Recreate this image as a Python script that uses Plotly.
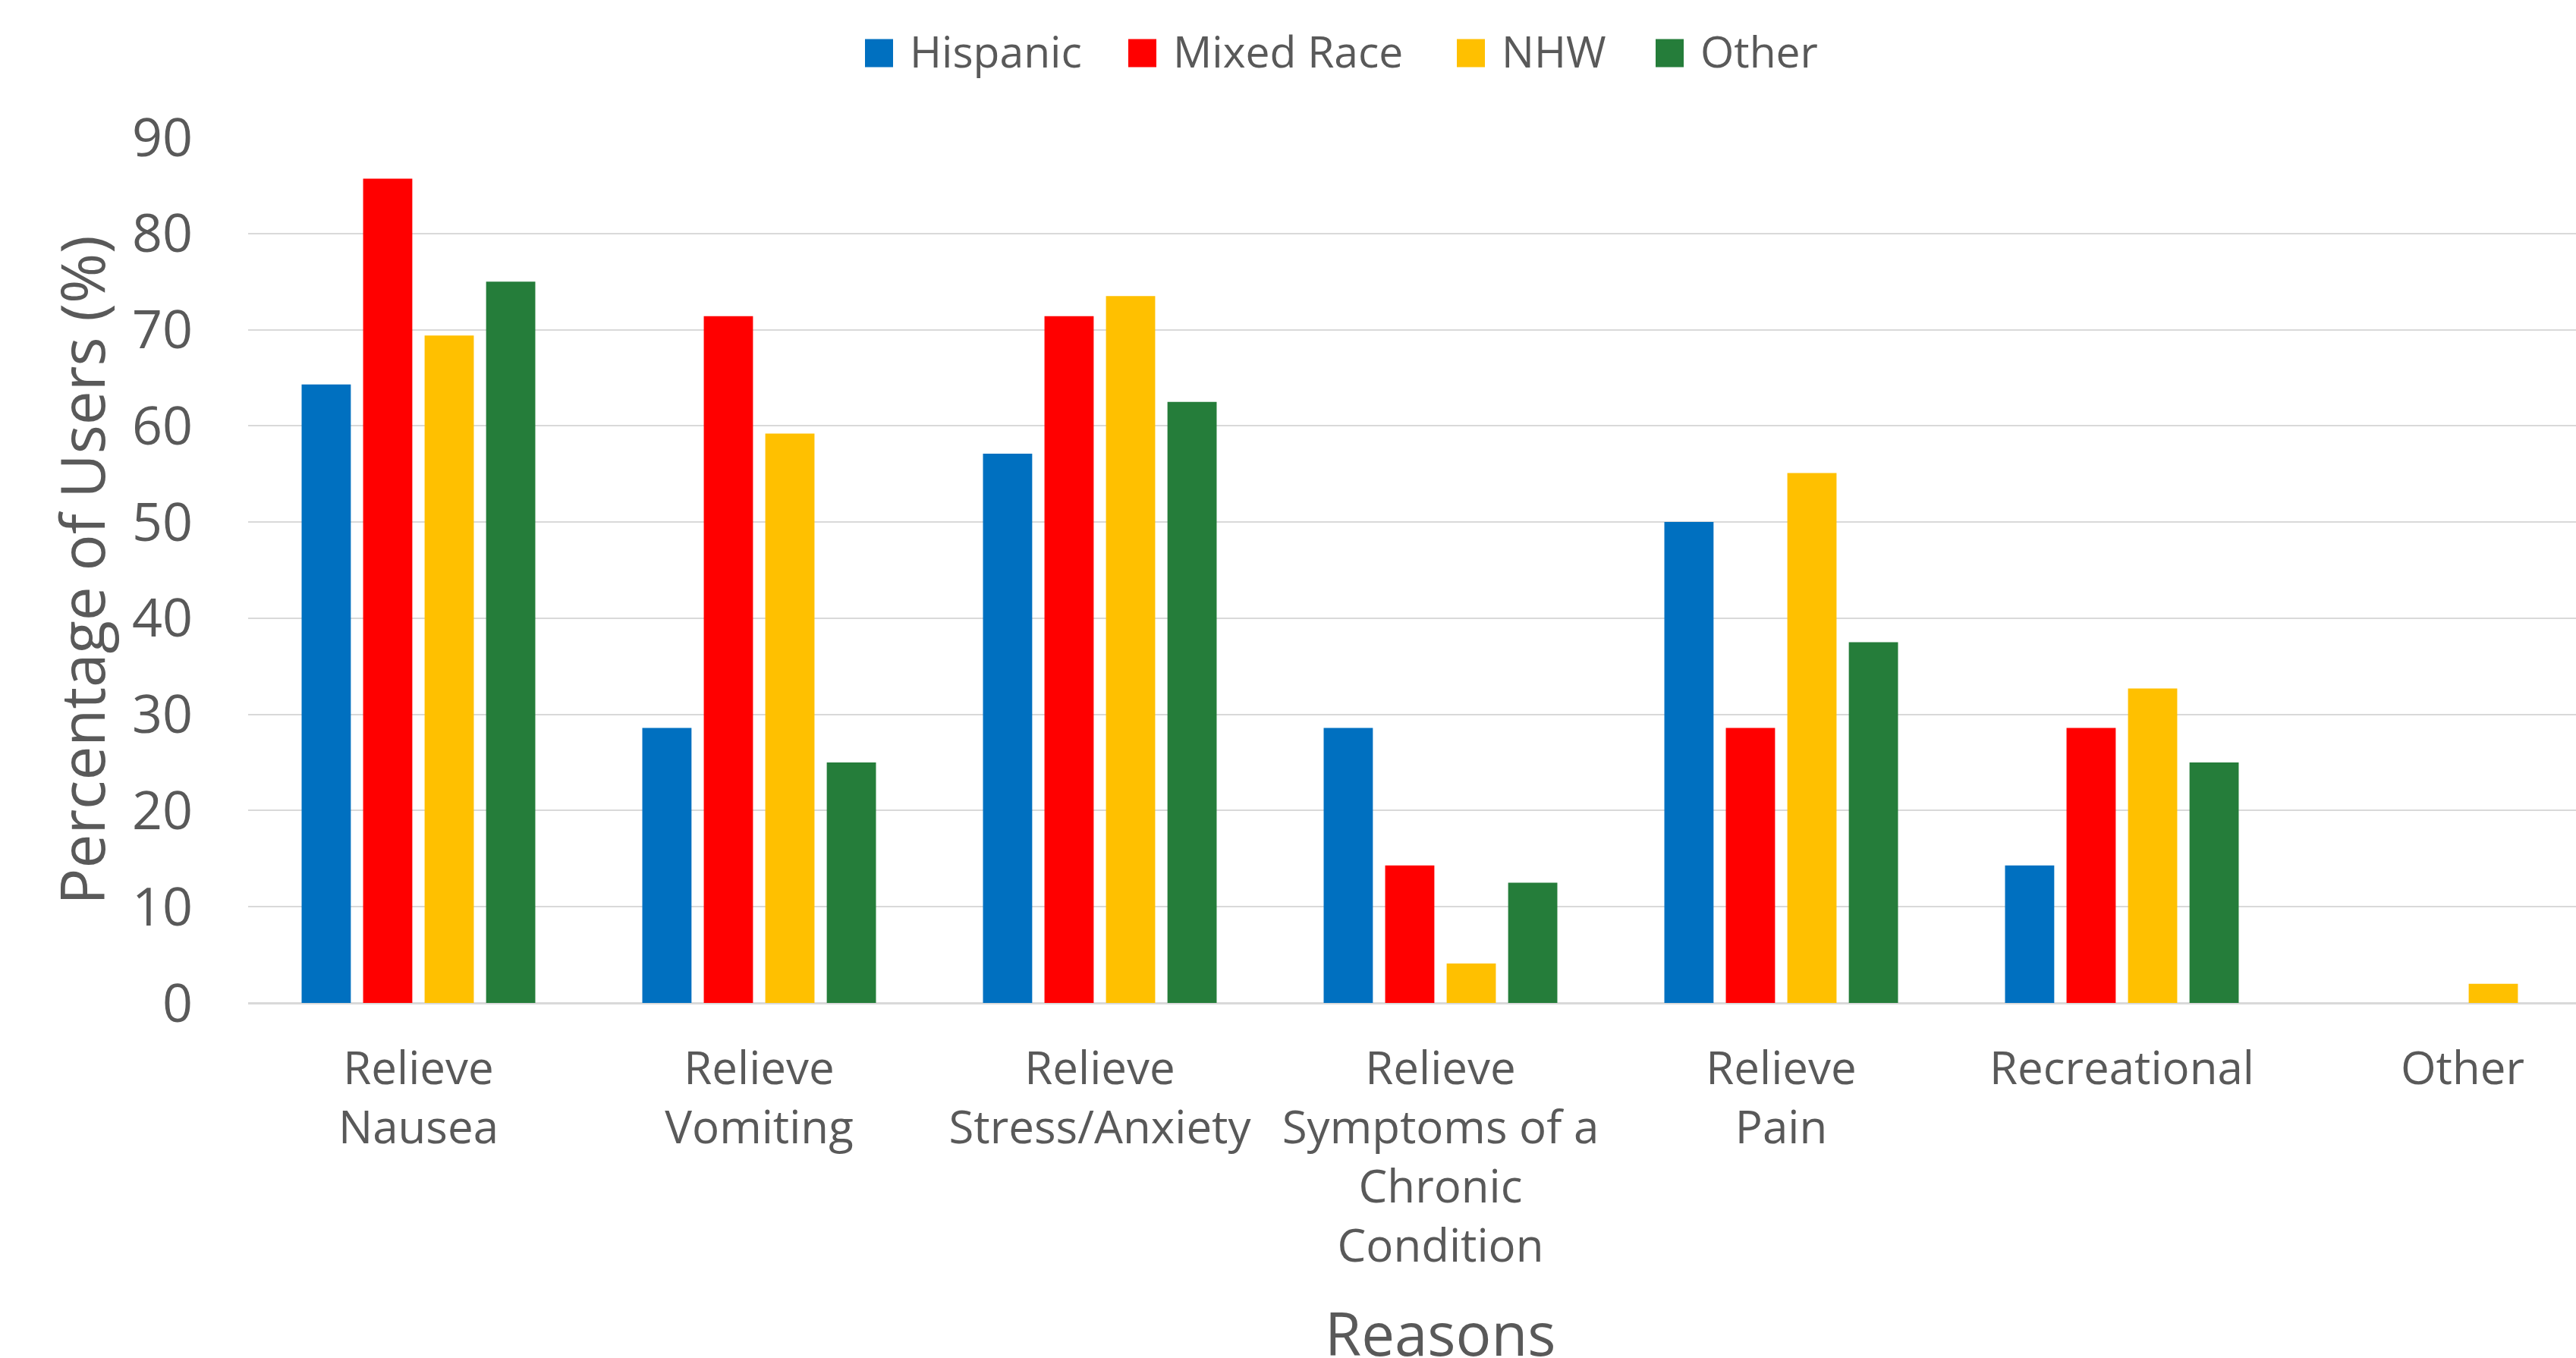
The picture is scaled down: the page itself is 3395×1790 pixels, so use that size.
import plotly.graph_objects as go

# Reasons for use, grouped by race/ethnicity (percentage of users)
categories = [
    "Relieve<br>Nausea",
    "Relieve<br>Vomiting",
    "Relieve<br>Stress/Anxiety",
    "Relieve<br>Symptoms of a<br>Chronic<br>Condition",
    "Relieve<br>Pain",
    "Recreational",
    "Other",
]

series_names = ["Hispanic", "Mixed Race", "NHW", "Other"]

hispanic = [64.3, 28.6, 57.1, 28.6, 50.0, 14.3, 0.0]
mixed_race = [85.7, 71.4, 71.4, 14.3, 28.6, 28.6, 0.0]
nhw = [69.4, 59.2, 73.5, 4.1, 55.1, 32.7, 2.0]
other = [75.0, 25.0, 62.5, 12.5, 37.5, 25.0, 0.0]

y_ticks = [0, 10, 20, 30, 40, 50, 60, 70, 80, 90]

colors = ["#0070C0", "#FF0000", "#FFC000", "#257D3A"]
values = [hispanic, mixed_race, nhw, other]

W, H = 3395, 1790
PLOT_L, PLOT_R, PLOT_T, PLOT_B = 327, 3395, 181, 1322
TEXT = "#595959"
FONT = "Open Sans"


def px_x(px):
    return (px - PLOT_L) / (PLOT_R - PLOT_L)


def px_y(py):
    return (PLOT_B - py) / (PLOT_B - PLOT_T)


fig = go.Figure()
for name, vals, col in zip(series_names, values, colors):
    fig.add_trace(go.Bar(
        x=categories, y=vals, name=name,
        marker=dict(color=col, line=dict(width=0)),
        showlegend=False,
    ))

# Legend drawn as large square swatches with labels above the plot
sw_left = [1140, 1487, 1920, 2182]
sw_size = 37
sw_cy = 70
shapes = []
annotations = []
for name, col, left in zip(series_names, colors, sw_left):
    shapes.append(dict(
        type="rect", xref="paper", yref="paper",
        x0=px_x(left), x1=px_x(left + sw_size),
        y0=px_y(sw_cy + sw_size / 2), y1=px_y(sw_cy - sw_size / 2),
        fillcolor=col, line=dict(width=0), layer="above",
    ))
    annotations.append(dict(
        text=name, xref="paper", yref="paper",
        x=px_x(left + sw_size + 20), y=px_y(sw_cy - 3),
        xanchor="left", yanchor="middle", showarrow=False,
        font=dict(family=FONT, size=57, color=TEXT),
    ))

# x-axis title
annotations.append(dict(
    text="Reasons", xref="paper", yref="paper",
    x=px_x(1898), y=px_y(1757),
    xanchor="center", yanchor="middle", showarrow=False,
    font=dict(family=FONT, size=78, color=TEXT),
))

fig.update_layout(
    width=W, height=H,
    margin=dict(l=PLOT_L, r=W - PLOT_R, t=PLOT_T, b=H - PLOT_B, pad=0),
    paper_bgcolor="white", plot_bgcolor="white",
    barmode="group", bargap=0.278, bargroupgap=0.2,
    font=dict(family=FONT, color=TEXT),
    shapes=shapes, annotations=annotations,
    showlegend=False,
)

fig.update_xaxes(
    range=[-0.5, 6.333],
    showgrid=False, showline=False, ticks="",
    tickfont=dict(family=FONT, size=60, color=TEXT),
    ticklabelstandoff=46,
)

fig.update_yaxes(
    range=[0, 90], tickvals=y_ticks,
    showgrid=True, gridcolor="#D9D9D9", gridwidth=2,
    zeroline=True, zerolinecolor="#D9D9D9", zerolinewidth=3,
    showline=False, ticks="",
    tickfont=dict(family=FONT, size=70, color=TEXT),
    ticklabelstandoff=72,
    title=dict(text="Percentage of Users (%)", standoff=8,
               font=dict(family=FONT, size=80, color=TEXT)),
)

fig.write_html("out.html")
